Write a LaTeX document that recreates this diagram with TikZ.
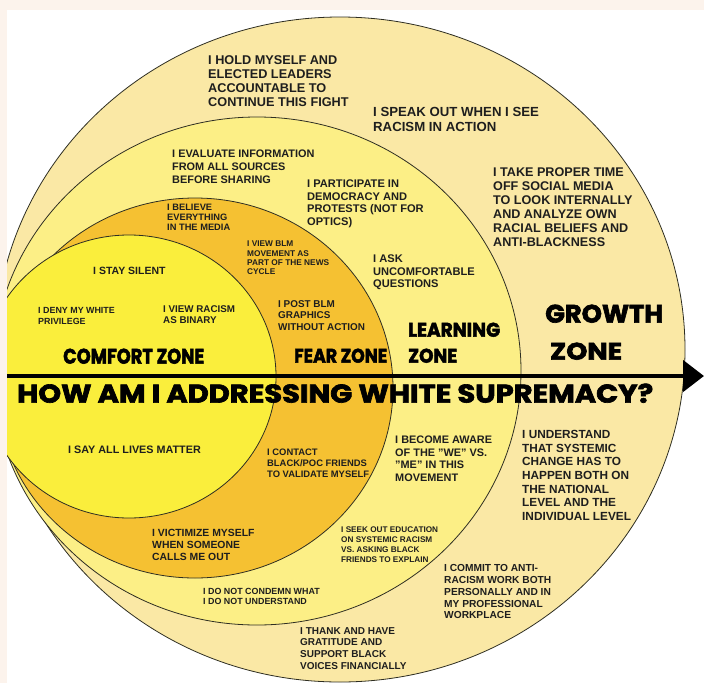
\documentclass[tikz,border=0pt]{standalone}
\usepackage{fontspec}
\usepackage{graphicx}
\setmainfont{Liberation Sans}
\newfontfamily\zonefont{Poppins}[BoldFeatures={FakeBold=2.5}]
\usetikzlibrary{arrows.meta}
\definecolor{page}{HTML}{FCF3EC}
\definecolor{growth}{HTML}{FAE8A5}
\definecolor{learning}{HTML}{FCEF86}
\definecolor{fear}{HTML}{F5C132}
\definecolor{comfort}{HTML}{FAEE3C}
\definecolor{ink}{HTML}{1E1E1E}
\definecolor{rim}{HTML}{2E2E22}
\newcommand{\sq}{{\char34}}
\tikzset{
  zonering/.style={draw=rim, line width=0.8pt},
  lbl/.style 2 args={inner sep=0pt, anchor=north west, align=left, text=ink,
    font=\bfseries\fontsize{#1}{#2}\selectfont},
  zlbl/.style={inner sep=0pt, anchor=south west, text=black},
  axisarrow/.style={line width=4.6pt, draw=black, -{Triangle[length=21pt,width=31pt]}},
}
\begin{document}
\begin{tikzpicture}[x=1pt,y=-1pt]
\useasboundingbox (0,0) rectangle (704,683);
\fill[page] (0,0) rectangle (704,683);
\fill[white] (7,10) rectangle (704,683);
\begin{scope}
  \clip (7,10) rectangle (704,683);
  \filldraw[zonering, fill=growth]   (340,349.5) ellipse [x radius=345pt, y radius=332.5pt];
  \filldraw[zonering, fill=learning] (257,371)   ellipse [x radius=264pt, y radius=254pt];
  \filldraw[zonering, fill=fear]     (195,388)   ellipse [x radius=198pt, y radius=190pt];
  \filldraw[zonering, fill=comfort]  (129,376.5) ellipse [x radius=147pt, y radius=141.5pt];
\end{scope}
% axis arrow
\coordinate (axisL) at (7,376);
\coordinate (axisR) at (704,376);
\draw[axisarrow] (axisL) -- (axisR);
% zone labels
\node[zlbl] (comfortlbl) at (63,364) {\resizebox{141pt}{15pt}{\zonefont\bfseries COMFORT ZONE}};
\node[zlbl] (fearlbl) at (294,363) {\resizebox{93pt}{14pt}{\zonefont\bfseries FEAR ZONE}};
\node[zlbl] (learnlblA) at (408,337) {\resizebox{92pt}{14pt}{\zonefont\bfseries LEARNING}};
\node[zlbl] (learnlblB) at (408,363) {\resizebox{49pt}{14pt}{\zonefont\bfseries ZONE}};
\node[zlbl] (growlblA) at (545,323) {\resizebox{118pt}{18pt}{\zonefont\bfseries GROWTH}};
\node[zlbl] (growlblB) at (550,360) {\resizebox{72pt}{17pt}{\zonefont\bfseries ZONE}};
\node[zlbl] (title) at (17,403) {\resizebox{636pt}{19pt}{\zonefont\bfseries HOW AM I ADDRESSING WHITE SUPREMACY?}};
% growth zone texts
\node[lbl={12.7}{14.3}] (hold) at (208,55) {I HOLD MYSELF AND\\ELECTED LEADERS\\ACCOUNTABLE TO\\CONTINUE THIS FIGHT};
\node[lbl={13.2}{14.6}] (speak) at (373,107) {I SPEAK OUT WHEN I SEE\\RACISM IN ACTION};
\node[lbl={12.6}{14}] (take) at (493,167) {I TAKE PROPER TIME\\OFF SOCIAL MEDIA\\TO LOOK INTERNALLY\\AND ANALYZE OWN\\RACIAL BELIEFS AND\\ANTI-BLACKNESS};
\node[lbl={11.8}{13.7}] (understand) at (522,430) {I UNDERSTAND\\THAT SYSTEMIC\\CHANGE HAS TO\\HAPPEN BOTH ON\\THE NATIONAL\\LEVEL AND THE\\INDIVIDUAL LEVEL};
\node[lbl={10.2}{11.9}] (commit) at (444,564) {I COMMIT TO ANTI-\\RACISM WORK BOTH\\PERSONALLY AND IN\\MY PROFESSIONAL\\WORKPLACE};
\node[lbl={10}{11.7}] (thank) at (300,627) {I THANK AND HAVE\\GRATITUDE AND\\SUPPORT BLACK\\VOICES FINANCIALLY};
% learning zone texts
\node[lbl={10.9}{12.7}] (evaluate) at (172,150) {I EVALUATE INFORMATION\\FROM ALL SOURCES\\BEFORE SHARING};
\node[lbl={11.1}{12.5}] (participate) at (307,180) {I PARTICIPATE IN\\DEMOCRACY AND\\PROTESTS (NOT FOR\\OPTICS)};
\node[lbl={11.1}{12.5}] (ask) at (373,255) {I ASK\\UNCOMFORTABLE\\QUESTIONS};
\node[lbl={10.9}{12.4}] (aware) at (395,436) {I BECOME AWARE\\OF THE \sq WE\sq{} VS.\\\sq ME\sq{} IN THIS\\MOVEMENT};
\node[lbl={8.2}{10}] (seek) at (341,527) {I SEEK OUT EDUCATION\\ON SYSTEMIC RACISM\\VS. ASKING BLACK\\FRIENDS TO EXPLAIN};
\node[lbl={8.9}{10}] (condemn) at (203,588) {I DO NOT CONDEMN WHAT\\I DO NOT UNDERSTAND};
% fear zone texts
\node[lbl={9.3}{10}] (believe) at (167,204) {I BELIEVE\\EVERYTHING\\IN THE MEDIA};
\node[lbl={8.3}{9.3}] (viewblm) at (247,241) {I VIEW BLM\\MOVEMENT AS\\PART OF THE NEWS\\CYCLE};
\node[lbl={9.9}{11.5}] (post) at (278,300) {I POST BLM\\GRAPHICS\\WITHOUT ACTION};
\node[lbl={9.4}{11}] (contact) at (267,449) {I CONTACT\\BLACK/POC FRIENDS\\TO VALIDATE MYSELF};
\node[lbl={10.4}{11.8}] (victim) at (152,529) {I VICTIMIZE MYSELF\\WHEN SOMEONE\\CALLS ME OUT};
% comfort zone texts
\node[lbl={10.5}{12}] (silent) at (93,267) {I STAY SILENT};
\node[lbl={8.9}{11}] (deny) at (38,307) {I DENY MY WHITE\\PRIVILEGE};
\node[lbl={9.8}{11}] (binary) at (163,305) {I VIEW RACISM\\AS BINARY};
\node[lbl={10.8}{12}] (alllives) at (68,446) {I SAY ALL LIVES MATTER};
\end{tikzpicture}
\end{document}
